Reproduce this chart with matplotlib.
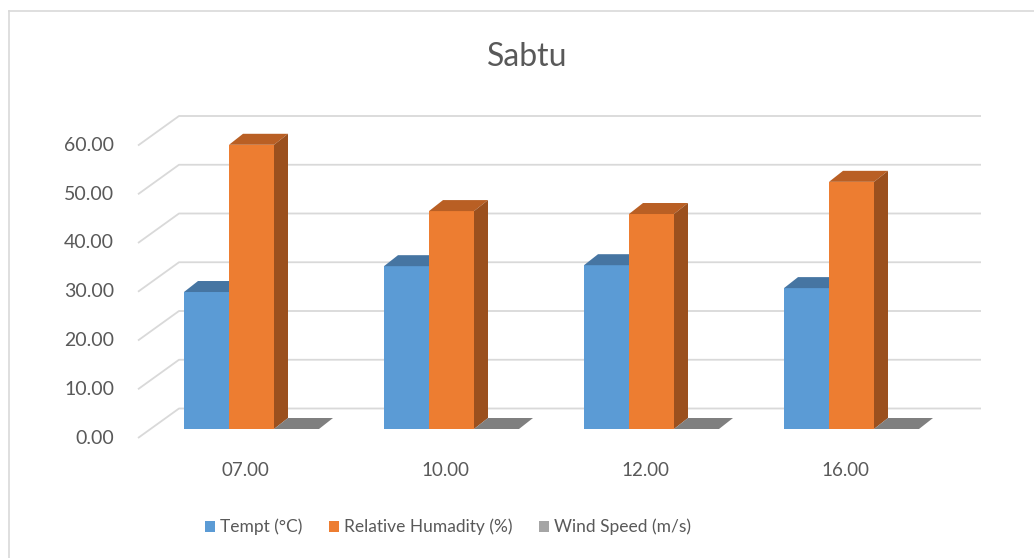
import matplotlib.pyplot as plt
from matplotlib.patches import Polygon, Rectangle
from matplotlib.lines import Line2D

plt.rcParams['font.family'] = ['Lato', 'DejaVu Sans']

# data
categories = ['07.00', '10.00', '12.00', '16.00']
tempt = [28.1, 33.4, 33.6, 28.9]
humidity = [58.3, 44.7, 44.1, 50.7]
wind = [0.0, 0.0, 0.0, 0.0]
series_names = ['Tempt (°C)', 'Relative Humadity (%)', 'Wind Speed (m/s)']
yticks = [0, 10, 20, 30, 40, 50, 60]

front_colors = ['#5B9BD5', '#ED7D31', '#A5A5A5']
top_colors = ['#4675A2', '#B95F24', '#7F7F7F']
side_colors = ['#3E6891', '#9B501E', '#6F6F6F']
text_color = '#595959'
grid_color = '#D9D9D9'

W, H = 1034, 558
fig = plt.figure(figsize=(W / 100, H / 100), dpi=100)
ax = fig.add_axes([0, 0, 1, 1])

# pixel mapping of the front plane: category i at x=245+200*i, value 0 at y=438, 4.875 px per unit
px_unit_x = 200.0
px_unit_y = 4.875
ax.set_xlim(-245 / px_unit_x, (W - 245) / px_unit_x)
ax.set_ylim((438 - H) / px_unit_y, 438 / px_unit_y)
ax.axis('off')

# 3d offsets (pixels) turned into data units
wall_dx, wall_dy = 41 / px_unit_x, 29.5 / px_unit_y      # side wall depth
bar_dx, bar_dy = 14 / px_unit_x, 11 / px_unit_y          # bar depth
base_dx, base_dy = 6.5 / px_unit_x, 9 / px_unit_y        # front face of bars
wall_left = (138 - 245) / px_unit_x
wall_right = (981 - 245) / px_unit_x

# gridlines: side wall diagonals + back wall horizontals
for v in yticks:
    ax.plot([wall_left, wall_left + wall_dx, wall_right],
            [v, v + wall_dy, v + wall_dy],
            color=grid_color, lw=1.3, zorder=1, solid_capstyle='butt')
    ax.text((114 - 245) / px_unit_x, v, f'{v:.2f}', ha='right', va='center',
            fontsize=14, color=text_color)

# bars
width = 45 / px_unit_x
xs = list(range(len(categories)))
handles = []
for k, vals in enumerate([tempt, humidity, wind]):
    pos = [x + (k - 1) * width + base_dx for x in xs]
    bars = ax.bar(pos, vals, width=width, bottom=base_dy, color=front_colors[k],
                  edgecolor='none', zorder=3 + k, label=series_names[k])
    for rect in bars:
        x0 = rect.get_x()
        x1 = x0 + rect.get_width()
        y0 = rect.get_y()
        y1 = y0 + rect.get_height()
        top = Polygon([(x0, y1), (x1, y1), (x1 + bar_dx, y1 + bar_dy), (x0 + bar_dx, y1 + bar_dy)],
                      closed=True, facecolor=top_colors[k], edgecolor='none', zorder=3 + k)
        side = Polygon([(x1, y0), (x1, y1), (x1 + bar_dx, y1 + bar_dy), (x1 + bar_dx, y0 + bar_dy)],
                       closed=True, facecolor=side_colors[k], edgecolor='none', zorder=3 + k)
        ax.add_patch(top)
        ax.add_patch(side)
    handles.append(Rectangle((0, 0), 1, 1, facecolor=front_colors[k], edgecolor='none'))

# category labels
for x, c in zip(xs, categories):
    ax.text(x, (438 - 470) / px_unit_y, c, ha='center', va='center',
            fontsize=13.5, color=text_color)

# title
fig.text(527 / W, 1 - 57 / H, 'Sabtu', ha='center', va='center',
         fontsize=23, color=text_color)

# legend
leg = fig.legend(handles, series_names, loc='center', ncol=3,
                 bbox_to_anchor=(448 / W, 1 - 527 / H), frameon=False,
                 fontsize=12.5, handlelength=0.6, handleheight=0.6,
                 handletextpad=0.3, columnspacing=1.5, labelcolor=text_color)

# chart border
fig.add_artist(Line2D([9 / W, 9 / W], [0, 1 - 11 / H], color=grid_color, lw=1.2))
fig.add_artist(Line2D([9 / W, 1], [1 - 11 / H, 1 - 11 / H], color=grid_color, lw=1.2))

fig.savefig('out.png', dpi=100)
